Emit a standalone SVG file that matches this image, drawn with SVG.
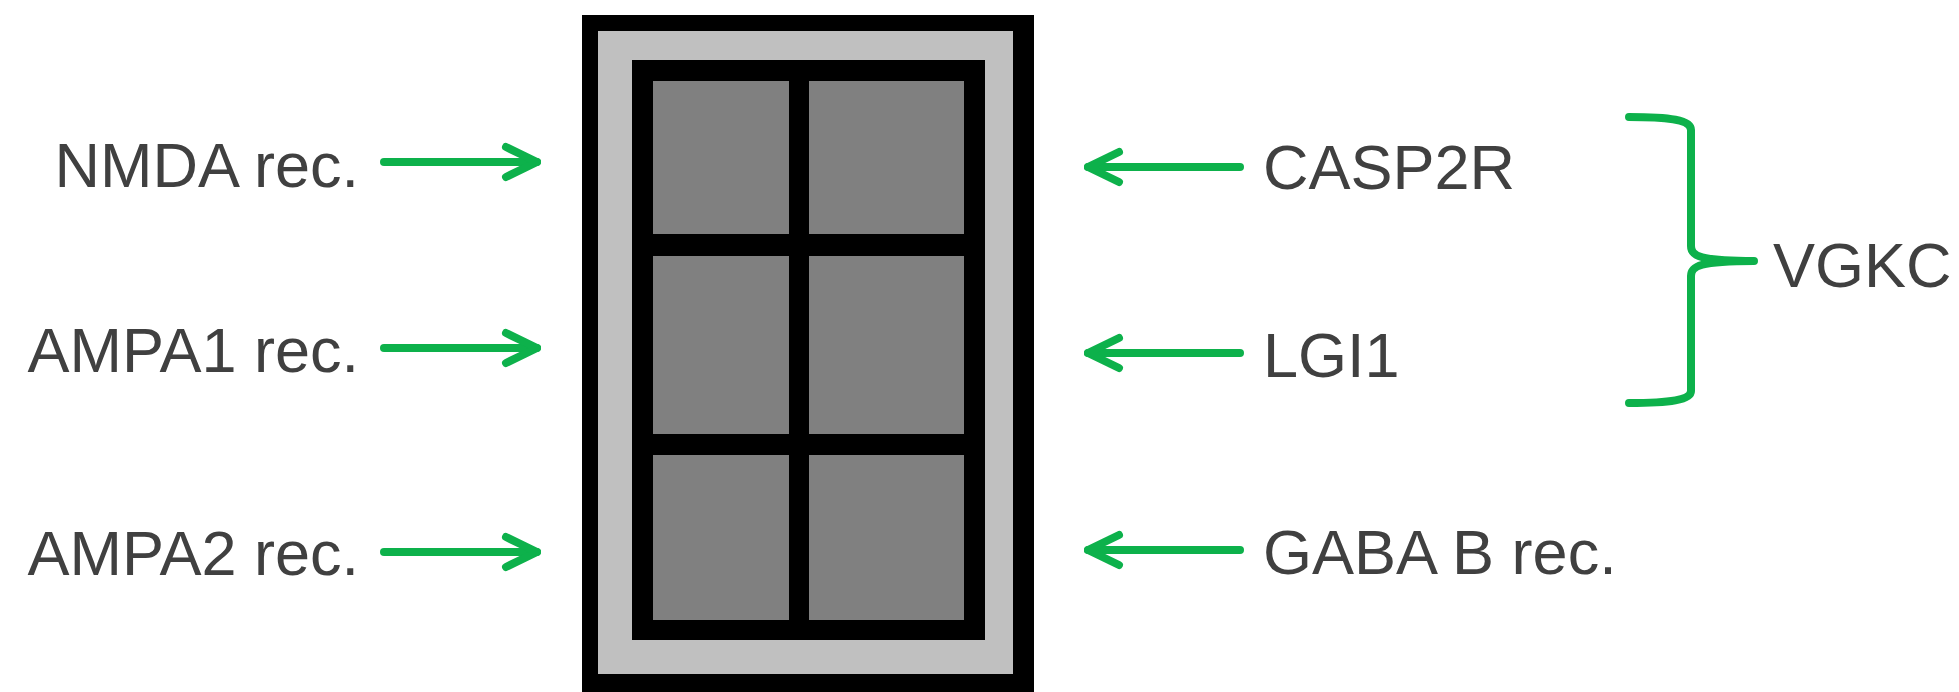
<svg xmlns="http://www.w3.org/2000/svg" width="1959" height="692" viewBox="0 0 1959 692">
<defs>
<style>
.lbl{font-family:"Liberation Sans",Arial,sans-serif;font-size:63px;fill:#404040}
.conn{stroke:#0DB14B;stroke-width:8;fill:none;stroke-linecap:round;stroke-linejoin:round}
.cell{fill:#808080}
</style>
<marker id="chev" viewBox="0 0 40 40" refX="36" refY="20" markerWidth="40" markerHeight="40" markerUnits="userSpaceOnUse" orient="auto">
<path d="M5,5 L36,20 L5,35" fill="none" stroke="#0DB14B" stroke-width="8" stroke-linecap="round" stroke-linejoin="round"/>
</marker>
</defs>
<rect width="1959" height="692" fill="#ffffff"/>
<g id="cell-window">
<rect x="582" y="15" width="452" height="677" fill="#000000"/>
<rect x="598" y="31" width="415" height="643" fill="#C0C0C0"/>
<rect x="632" y="60" width="353" height="580" fill="#000000"/>
<rect class="cell" x="653" y="81" width="136" height="153"/>
<rect class="cell" x="809" y="81" width="155" height="153"/>
<rect class="cell" x="653" y="256" width="136" height="178"/>
<rect class="cell" x="809" y="256" width="155" height="178"/>
<rect class="cell" x="653" y="455" width="136" height="165"/>
<rect class="cell" x="809" y="455" width="155" height="165"/>
</g>
<g id="node-nmda"><text class="lbl" x="359" y="187" text-anchor="end">NMDA rec.</text></g>
<g id="node-ampa1"><text class="lbl" x="359" y="372" text-anchor="end">AMPA1 rec.</text></g>
<g id="node-ampa2"><text class="lbl" x="359" y="575" text-anchor="end">AMPA2 rec.</text></g>
<g id="node-casp2r"><text class="lbl" x="1263" y="189">CASP2R</text></g>
<g id="node-lgi1"><text class="lbl" x="1263" y="377">LGI1</text></g>
<g id="node-gabab"><text class="lbl" x="1263" y="574">GABA B rec.</text></g>
<g id="node-vgkc"><text class="lbl" x="1773" y="287">VGKC</text></g>
<g id="connectors">
<line class="conn" x1="384" y1="162" x2="537" y2="162" marker-end="url(#chev)"/>
<line class="conn" x1="384" y1="348" x2="537" y2="348" marker-end="url(#chev)"/>
<line class="conn" x1="384" y1="552" x2="537" y2="552" marker-end="url(#chev)"/>
<line class="conn" x1="1240" y1="167" x2="1088" y2="167" marker-end="url(#chev)"/>
<line class="conn" x1="1240" y1="353" x2="1088" y2="353" marker-end="url(#chev)"/>
<line class="conn" x1="1240" y1="550" x2="1088" y2="550" marker-end="url(#chev)"/>
<path class="conn" stroke-width="7.5" stroke-linecap="butt" d="M1629,117 C1670,117 1691,120 1691,130 L1691,246 C1691,256 1700,261 1754,261 C1700,261 1691,266 1691,276 L1691,391 C1691,400 1670,403 1629,403"/>
</g>
</svg>
